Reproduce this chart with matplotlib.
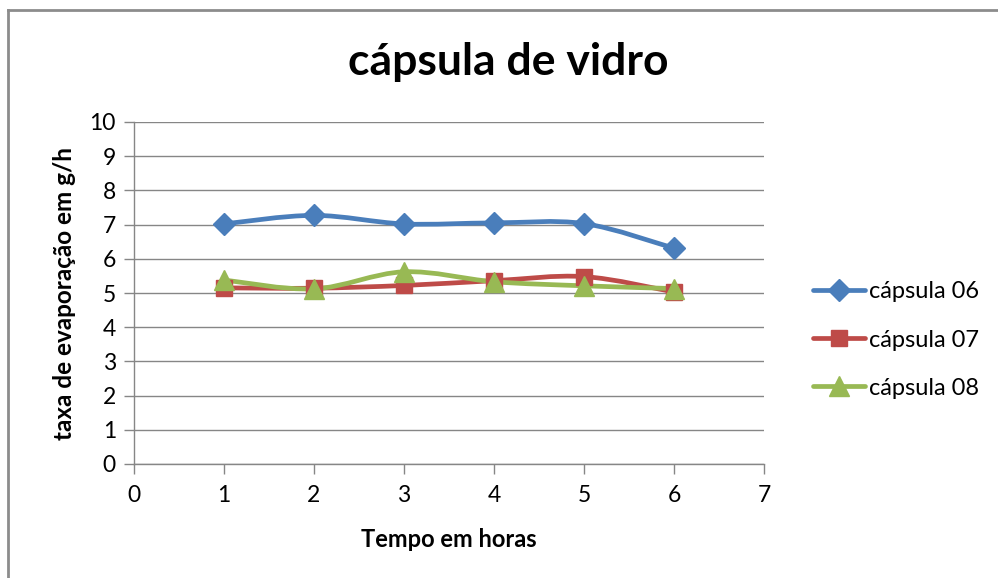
import matplotlib
matplotlib.use('Agg')
import matplotlib.pyplot as plt
from matplotlib.path import Path
from matplotlib.patches import PathPatch
from matplotlib.lines import Line2D
import numpy as np

hours = [1, 2, 3, 4, 5, 6]
capsula_06 = [7.02, 7.27, 7.02, 7.05, 7.03, 6.31]
capsula_07 = [5.15, 5.14, 5.22, 5.36, 5.48, 5.03]
capsula_08 = [5.38, 5.12, 5.62, 5.33, 5.21, 5.13]
series_names = ['cápsula 06', 'cápsula 07', 'cápsula 08']

colors = ['#4A7EBB', '#BE4B48', '#98B954']
markers = ['D', 's', '^']
marker_sizes = [11, 12, 14]

plt.rcParams['font.family'] = ['Lato', 'DejaVu Sans']

W, H = 998, 578
fig = plt.figure(figsize=(W / 100, H / 100), dpi=100)

# outer chart border (top and left edges visible)
fig.add_artist(Line2D([8 / W, 1.0], [1 - 10 / H, 1 - 10 / H], color='#8c8c8c', lw=2))
fig.add_artist(Line2D([8 / W, 8 / W], [0, 1 - 10 / H], color='#8c8c8c', lw=2))

ax = fig.add_axes([134 / W, 1 - 464 / H, (764 - 134) / W, (464 - 122) / H])


def smooth_path(xs, ys):
    # Excel-style smoothed line: cubic bezier segments through the points
    pts = np.column_stack([xs, ys]).astype(float)
    n = len(pts)
    verts = [pts[0]]
    codes = [Path.MOVETO]
    for i in range(n - 1):
        p0 = pts[i - 1] if i > 0 else pts[i]
        p1 = pts[i]
        p2 = pts[i + 1]
        p3 = pts[i + 2] if i + 2 < n else pts[i + 1]
        c1 = p1 + (p2 - p0) / 6.0
        c2 = p2 - (p3 - p1) / 6.0
        verts += [c1, c2, p2]
        codes += [Path.CURVE4] * 3
    return Path(verts, codes)


for ys, name, c, m, ms in zip([capsula_06, capsula_07, capsula_08], series_names,
                              colors, markers, marker_sizes):
    ax.add_patch(PathPatch(smooth_path(hours, ys), facecolor='none', edgecolor=c,
                           lw=3.4, capstyle='round', joinstyle='round', zorder=3))
    ax.plot(hours, ys, linestyle='none', marker=m, markersize=ms, color=c,
            markeredgecolor=c, zorder=4)

ax.set_xlim(0, 7)
ax.set_ylim(0, 10)
ax.set_xticks(range(0, 8))
ax.set_yticks(range(0, 11))
ax.grid(axis='y', color='#868686', lw=1)
ax.set_axisbelow(True)
for side in ['top', 'right']:
    ax.spines[side].set_visible(False)
for side in ['left', 'bottom']:
    ax.spines[side].set_color('#868686')
    ax.spines[side].set_linewidth(1)
ax.tick_params(colors='#868686', labelcolor='black', labelsize=16.5, length=7, width=1)
ax.tick_params(axis='x', pad=8)
ax.tick_params(axis='y', pad=6)

ax.set_xlabel('Tempo em horas', fontsize=17, fontweight='bold', labelpad=16)
ax.set_ylabel('taxa de evaporação em g/h', fontsize=17.5, fontweight='bold', labelpad=10)

fig.text(508 / W, 1 - 62 / H, 'cápsula de vidro', ha='center', va='center',
         fontsize=32, fontweight='bold')

handles = [Line2D([], [], color=c, lw=3.4, marker=m, markersize=ms, solid_capstyle='round')
           for c, m, ms in zip(colors, markers, marker_sizes)]
fig.legend(handles, series_names, loc='upper left', bbox_to_anchor=(804 / W, 1 - 272 / H),
           frameon=False, fontsize=17, handlelength=2.2, handletextpad=0.15,
           labelspacing=1.15, borderaxespad=0)

fig.savefig('out.png', dpi=100)
